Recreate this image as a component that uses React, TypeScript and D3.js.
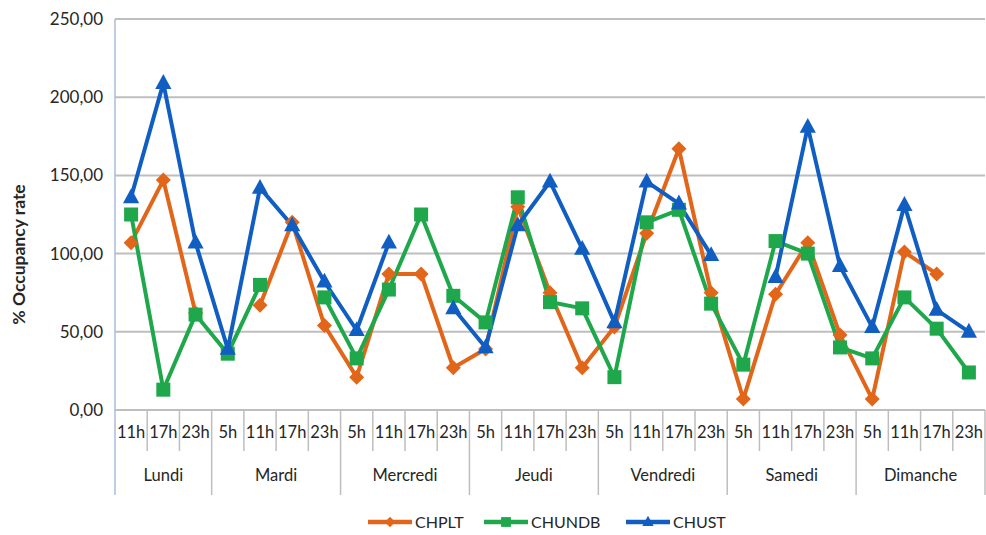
import React from "react";
import * as d3 from "d3";

const days = ["Lundi", "Mardi", "Mercredi", "Jeudi", "Vendredi", "Samedi", "Dimanche"];
const dayHours: string[][] = [
  ["11h", "17h", "23h"],
  ["5h", "11h", "17h", "23h"],
  ["5h", "11h", "17h", "23h"],
  ["5h", "11h", "17h", "23h"],
  ["5h", "11h", "17h", "23h"],
  ["5h", "11h", "17h", "23h"],
  ["5h", "11h", "17h", "23h"],
];

const CHPLT: (number | null)[] = [
  107, 147, 62,
  null, 67, 120, 54,
  21, 87, 87, 27,
  39, 130, 75, 27,
  53, 113, 167, 75,
  7, 74, 107, 48,
  7, 101, 87, null,
];
const CHUNDB: (number | null)[] = [
  125, 13, 61,
  36, 80, null, 72,
  33, 77, 125, 73,
  56, 136, 69, 65,
  21, 120, 128, 68,
  29, 108, 100, 40,
  33, 72, 52, 24,
];
const CHUST: (number | null)[] = [
  136, 209, 107,
  39, 142, 118, 82,
  51, 107, null, 65,
  40, 118, 146, 103,
  56, 146, 132, 99,
  null, 85, 181, 92,
  53, 131, 64, 50,
];

const yTicks = [0, 50, 100, 150, 200, 250];

const series = [
  { name: "CHPLT", data: CHPLT, color: "#E2661A", marker: "diamond" },
  { name: "CHUNDB", data: CHUNDB, color: "#1FA84B", marker: "square" },
  { name: "CHUST", data: CHUST, color: "#115EC2", marker: "triangle" },
];

const W = 986, H = 535;
const left = 115, right = 985, top = 19, bottom = 410;
const FONT = "Lato, 'Open Sans', sans-serif";

function Marker({ type, x, y, color, s = 1 }: { type: string; x: number; y: number; color: string; s?: number }) {
  if (type === "diamond") {
    const r = 7.5 * s;
    return <path d={`M${x},${y - r}L${x + r},${y}L${x},${y + r}L${x - r},${y}Z`} fill={color} />;
  }
  if (type === "square") {
    const r = 7 * s;
    return <rect x={x - r} y={y - r} width={2 * r} height={2 * r} fill={color} />;
  }
  const r = 9 * s;
  return <path d={`M${x},${y - r}L${x + r * 0.9},${y + r * 0.65}L${x - r * 0.9},${y + r * 0.65}Z`} fill={color} />;
}

export default function App() {
  const cats: { day: number; hour: string }[] = [];
  dayHours.forEach((hs, di) => hs.forEach((h) => cats.push({ day: di, hour: h })));
  const x = d3.scaleBand<number>().domain(cats.map((_, i) => i)).range([left, right]).padding(0);
  const y = d3.scaleLinear().domain([0, 250]).range([bottom, top]);
  const bw = x.bandwidth();
  const cx = (i: number) => (x(i) as number) + bw / 2;

  const line = d3
    .line<number | null>()
    .defined((d) => d != null)
    .x((_, i) => cx(i))
    .y((d) => y(d as number));

  const dayStarts: number[] = [];
  let idx = 0;
  dayHours.forEach((hs) => {
    dayStarts.push(idx);
    idx += hs.length;
  });

  const legendItems = [
    { s: series[0], x: 368 },
    { s: series[1], x: 484 },
    { s: series[2], x: 626 },
  ];

  return (
    <svg width={W} height={H} style={{ position: "absolute", left: 0, top: 0, background: "#fff" }} fontFamily={FONT}>
      {yTicks.map((t) => (
        <line key={t} x1={left} x2={right} y1={y(t)} y2={y(t)} stroke="#BEBEBE" strokeWidth={2} />
      ))}
      {yTicks.map((t) => (
        <text key={"l" + t} x={103} y={y(t)} dy="0.35em" textAnchor="end" fontSize={17} fill="#262626">
          {d3.format(".2f")(t).replace(".", ",")}
        </text>
      ))}
      <text
        transform={`translate(25,${(top + bottom) / 2 + 40}) rotate(-90)`}
        textAnchor="middle"
        fontSize={17.5}
        fontWeight="bold"
        fill="#262626"
      >
        % Occupancy rate
      </text>
      {cats.map((c, i) =>
        i === 0 ? null : (
          <line
            key={"t" + i}
            x1={x(i) as number}
            x2={x(i) as number}
            y1={bottom}
            y2={dayStarts.includes(i) ? 495 : 451}
            stroke="#BEBEBE"
            strokeWidth={1.5}
          />
        )
      )}
      <line x1={right} x2={right} y1={bottom} y2={495} stroke="#BEBEBE" strokeWidth={1.5} />
      {cats.map((c, i) => (
        <text key={"h" + i} x={cx(i)} y={438} textAnchor="middle" fontSize={16.5} fill="#262626">
          {c.hour}
        </text>
      ))}
      {days.map((d, di) => {
        const s = dayStarts[di];
        const e = s + dayHours[di].length;
        const mid = ((x(s) as number) + (e < cats.length ? (x(e) as number) : right)) / 2;
        return (
          <text key={d} x={mid} y={481} textAnchor="middle" fontSize={16.5} fill="#262626">
            {d}
          </text>
        );
      })}
      <line x1={left} x2={left} y1={top} y2={495} stroke="#A9BCD8" strokeWidth={1.5} />
      {series.map((s) => (
        <path key={s.name} d={line(s.data) || ""} fill="none" stroke={s.color} strokeWidth={4} strokeLinejoin="round" />
      ))}
      {series.map((s) =>
        s.data.map((v, i) =>
          v == null ? null : <Marker key={s.name + i} type={s.marker} x={cx(i)} y={y(v)} color={s.color} />
        )
      )}
      {legendItems.map(({ s, x: lx }) => (
        <g key={"lg" + s.name}>
          <line x1={lx} x2={lx + 44} y1={522} y2={522} stroke={s.color} strokeWidth={4.5} />
          <Marker type={s.marker} x={lx + 22} y={522} color={s.color} s={0.7} />
          <text x={lx + 47} y={522} dy="0.35em" fontSize={16} fill="#262626">
            {s.name}
          </text>
        </g>
      ))}
    </svg>
  );
}
